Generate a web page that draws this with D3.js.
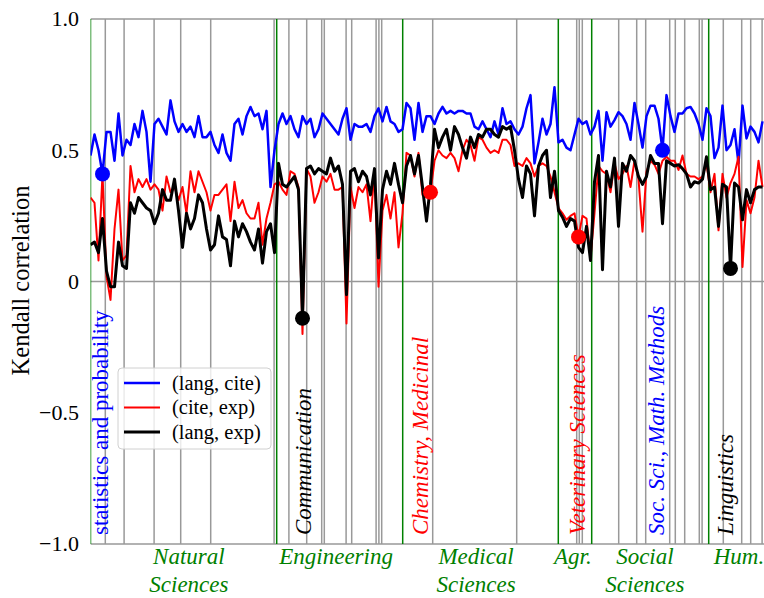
<!DOCTYPE html>
<html>
<head>
<meta charset="utf-8">
<script src="https://d3js.org/d3.v7.min.js"></script>
<style>
  body { margin: 0; background: #fff; }
</style>
</head>
<body>
<div id="chart"></div>
<script>
// Kendall correlation per subfield (x = subfield index)
const langCite = [
  0.48,0.56,0.50,0.41,0.57,0.57,0.46,0.64,0.48,0.54,0.52,0.60,0.55,0.65,0.57,0.38,0.60,0.62,0.59,0.56,0.69,0.61,0.57,0.60,0.57,0.59,0.55,0.63,0.55,
  0.55,0.57,0.52,0.49,0.56,0.49,0.46,0.60,0.62,0.56,0.63,0.665,0.63,0.64,0.58,0.65,0.36,0.50,0.60,0.64,0.60,0.63,0.58,0.55,0.63,0.60,0.62,0.55,
  0.58,0.64,0.62,0.60,0.58,0.56,0.62,0.66,0.54,0.60,0.59,0.59,0.60,0.57,0.63,0.66,0.61,0.665,0.61,0.60,0.57,0.58,0.68,0.66,0.54,0.68,0.57,0.63,
  0.63,0.60,0.64,0.665,0.64,0.65,0.64,0.65,0.65,0.64,0.64,0.59,0.58,0.61,0.58,0.55,0.61,0.56,0.66,0.60,0.61,0.58,0.56,0.59,0.66,0.71,0.45,0.53,
  0.62,0.56,0.60,0.74,0.53,0.54,0.51,0.50,0.56,0.62,0.60,0.61,0.56,0.59,0.65,0.46,0.645,0.59,0.615,0.645,0.63,0.60,0.54,0.68,0.60,0.51,0.63,0.67,
  0.67,0.62,0.50,0.71,0.63,0.57,0.64,0.64,0.66,0.665,0.64,0.60,0.54,0.66,0.63,0.47,0.51,0.67,0.50,0.52,0.58,0.45,0.67,0.545,0.59,0.57,0.53,0.61
];
const citeExp = [
  0.32,0.30,0.08,0.41,0.02,-0.07,0.20,0.35,0.08,0.10,0.44,0.34,0.39,0.36,0.39,0.35,0.37,0.35,0.27,0.40,0.34,0.36,0.31,0.36,0.26,0.42,0.34,0.42,0.38,
  0.34,0.27,0.33,0.33,0.35,0.37,0.23,0.38,0.28,0.31,0.26,0.24,0.24,0.30,0.14,0.24,0.30,0.37,0.38,0.35,0.33,0.42,0.41,0.36,-0.20,0.43,0.40,0.30,
  0.34,0.40,0.38,0.41,0.35,0.35,0.36,-0.16,0.36,0.28,0.36,0.34,0.37,0.23,0.42,-0.02,0.27,0.33,0.24,0.34,0.13,0.26,0.49,0.48,0.40,0.49,0.33,0.32,
  0.34,0.46,0.50,0.48,0.47,0.49,0.47,0.42,0.50,0.54,0.52,0.46,0.55,0.54,0.51,0.49,0.50,0.49,0.54,0.54,0.52,0.44,0.45,0.44,0.47,0.45,0.40,0.44,
  0.45,0.44,0.40,0.34,0.28,0.26,0.235,0.25,0.26,0.17,0.25,0.24,0.09,0.26,0.44,0.42,0.41,0.34,0.45,0.39,0.41,0.44,0.36,0.46,0.39,0.19,0.42,0.46,
  0.445,0.41,0.46,0.475,0.46,0.46,0.425,0.48,0.41,0.40,0.40,0.39,0.40,0.45,0.34,0.41,0.195,0.41,0.32,0.375,0.41,0.475,0.055,0.31,0.26,0.32,0.46,0.36
];
const langExp = [
  0.14,0.15,0.11,0.24,0.04,-0.02,-0.02,0.15,0.06,0.05,0.30,0.26,0.32,0.30,0.28,0.27,0.22,0.26,0.35,0.31,0.31,0.39,0.27,0.13,0.26,0.20,0.24,0.33,0.30,
  0.20,0.12,0.14,0.25,0.17,0.16,0.06,0.23,0.17,0.22,0.19,0.15,0.12,0.20,0.07,0.19,0.22,0.11,0.45,0.37,0.36,0.38,0.40,0.35,-0.14,0.43,0.44,0.41,
  0.43,0.42,0.41,0.47,0.42,0.44,0.37,-0.05,0.42,0.43,0.38,0.42,0.40,0.33,0.43,0.09,0.35,0.42,0.37,0.45,0.37,0.30,0.44,0.48,0.41,0.48,0.36,0.23,
  0.37,0.58,0.51,0.55,0.58,0.50,0.59,0.56,0.51,0.47,0.55,0.51,0.56,0.55,0.58,0.58,0.56,0.55,0.59,0.58,0.59,0.50,0.39,0.32,0.44,0.41,0.25,0.44,
  0.48,0.50,0.32,0.42,0.27,0.245,0.21,0.24,0.23,0.13,0.11,0.21,0.08,0.38,0.48,0.045,0.42,0.36,0.47,0.21,0.45,0.42,0.48,0.46,0.40,0.37,0.40,0.48,
  0.45,0.45,0.22,0.46,0.45,0.44,0.445,0.43,0.41,0.36,0.38,0.375,0.39,0.475,0.35,0.36,0.21,0.37,0.36,0.05,0.375,0.36,0.235,0.35,0.30,0.35,0.36,0.36
];

const seriesNames = ["(lang, cite)", "(cite, exp)", "(lang, exp)"];
const seriesColors = ["#0000ff", "#ff0000", "#000000"];
const seriesWidths = [2.5, 2, 3];

const yTicks = [1, 0.5, 0, -0.5, -1];
const yTickLabels = ["1.0", "0.5", "0", "\u22120.5", "\u22121.0"];

// separators between subfields (grey) and fields (green), in x index units
const subfieldLines = [3.7, 8.4, 15.9, 22.55, 30.05, 45.9, 49.6, 54.05, 57.8, 58.45, 63.9, 65.3,
  71.4, 72.1, 72.8, 85.55, 106.55, 121.55, 122.2, 122.95, 132.05, 136.55, 138.8, 144.8,
  146.2, 148.55, 152.2, 152.9, 158.2, 162.8, 165.05, 167.9];
const fieldLines = [0, 46.55, 78.05, 116.95, 125.3, 154.55];

const fieldNames = [["Natural", "Sciences"], ["Engineering"], ["Medical", "Sciences"], ["Agr."], ["Social", "Sciences"], ["Hum."]];
const fieldCenters = [24.6, 61.4, 96.4, 120.6, 138.6, 162.1];

// highlighted subfields
const highlightNames = ["statistics and probability", "Communication", "Chemistry, Medicinal",
  "Veterinary Sciences", "Soc. Sci., Math. Methods", "Linguistics"];
const highlightIndex = [3, 53, 85, 122, 143, 160];
const highlightSeries = [0, 2, 1, 1, 0, 2];
const highlightItalic = [false, true, true, true, true, true];
const highlightShift = [5.5, 8.5, -2.5, 6.5, 1.5, 2.5];

var width = 764, height = 598;
var margin = { top: 19, left: 90.5, bottom: 54 };
var serif = "'Liberation Serif', 'Times New Roman', Times, 'DejaVu Serif', serif";

let svg = d3.select("#chart").append("svg")
  .attr("width", width)
  .attr("height", height)
  .attr("font-family", serif);

let x = d3.scaleLinear().domain([0, 168]).range([margin.left, margin.left + 672]);
let y = d3.scaleLinear().domain([-1, 1]).range([height - margin.bottom, margin.top]);

let series = [langCite, citeExp, langExp];

svg.append("defs").append("clipPath").attr("id", "plotclip")
  .append("rect")
  .attr("x", margin.left).attr("y", margin.top - 5)
  .attr("width", width - margin.left).attr("height", y(-1) - margin.top + 10);

let plot = svg.append("g").attr("clip-path", "url(#plotclip)");

// horizontal reference lines
plot.selectAll(".hline")
  .data([1, 0, -1])
  .enter()
  .append("line")
  .attr("x1", margin.left).attr("x2", width)
  .attr("y1", d => y(d)).attr("y2", d => y(d))
  .style("stroke", "#999")
  .style("stroke-width", 1.5);

plot.selectAll(".subline")
  .data(subfieldLines)
  .enter()
  .append("line")
  .attr("x1", d => x(d)).attr("x2", d => x(d))
  .attr("y1", y(1)).attr("y2", y(-1))
  .style("stroke", "#999")
  .style("stroke-width", 1.5);

plot.selectAll(".fieldline")
  .data(fieldLines)
  .enter()
  .append("line")
  .attr("x1", d => x(d)).attr("x2", d => x(d))
  .attr("y1", y(1)).attr("y2", y(-1))
  .style("stroke", "#008000")
  .style("stroke-width", 1.5);

let line = d3.line()
  .x((d, i) => x(i))
  .y(d => y(d));

series.forEach(function (s, k) {
  plot.append("path")
    .datum(s)
    .attr("d", line)
    .style("fill", "none")
    .style("stroke", seriesColors[k])
    .style("stroke-width", seriesWidths[k])
    .style("stroke-linejoin", "round");
});

// markers on highlighted subfields
plot.selectAll(".marker")
  .data(highlightIndex)
  .enter()
  .append("circle")
  .attr("cx", d => x(d))
  .attr("cy", (d, i) => y(series[highlightSeries[i]][d]))
  .attr("r", 7.5)
  .style("fill", (d, i) => seriesColors[highlightSeries[i]]);

// vertical labels for highlighted subfields
highlightNames.forEach(function (name, i) {
  let bx = x(highlightIndex[i]) + highlightShift[i];
  let by = y(-1) - 9;
  svg.append("text")
    .attr("transform", "translate(" + bx + "," + by + ") rotate(-90)")
    .attr("font-size", "23px")
    .attr("font-style", highlightItalic[i] ? "italic" : "normal")
    .attr("fill", seriesColors[highlightSeries[i]])
    .text(name);
});

// y axis tick labels
svg.selectAll(".ytick")
  .data(yTicks)
  .enter()
  .append("text")
  .attr("x", 79)
  .attr("y", d => y(d))
  .attr("dy", "0.34em")
  .attr("text-anchor", "end")
  .attr("font-size", "22px")
  .attr("fill", "#000")
  .text((d, i) => yTickLabels[i]);

svg.append("text")
  .attr("transform", "translate(29," + (y(0) - 1) + ") rotate(-90)")
  .attr("text-anchor", "middle")
  .attr("font-size", "24.5px")
  .attr("fill", "#000")
  .text("Kendall correlation");

// field names under the axis
fieldNames.forEach(function (lines, i) {
  lines.forEach(function (t, j) {
    svg.append("text")
      .attr("x", x(fieldCenters[i]))
      .attr("y", 564 + j * 28)
      .attr("text-anchor", "middle")
      .attr("font-size", "23px")
      .attr("font-style", "italic")
      .attr("fill", "#008000")
      .text(t);
  });
});

// legend
let legend = svg.append("g").attr("transform", "translate(118,368)");
legend.append("rect")
  .attr("width", 153).attr("height", 81)
  .attr("rx", 4)
  .style("fill", "#fff").style("fill-opacity", 0.8)
  .style("stroke", "#d0d0d0").style("stroke-width", 1);

seriesNames.forEach(function (n, k) {
  let ly = 15 + k * 24.5;
  legend.append("line")
    .attr("x1", 6).attr("x2", 42)
    .attr("y1", ly).attr("y2", ly)
    .style("stroke", seriesColors[k])
    .style("stroke-width", seriesWidths[k]);
  legend.append("text")
    .attr("x", 54).attr("y", ly)
    .attr("dy", "0.33em")
    .attr("font-size", "20.5px")
    .attr("fill", "#000")
    .text(n);
});
</script>
</body>
</html>
